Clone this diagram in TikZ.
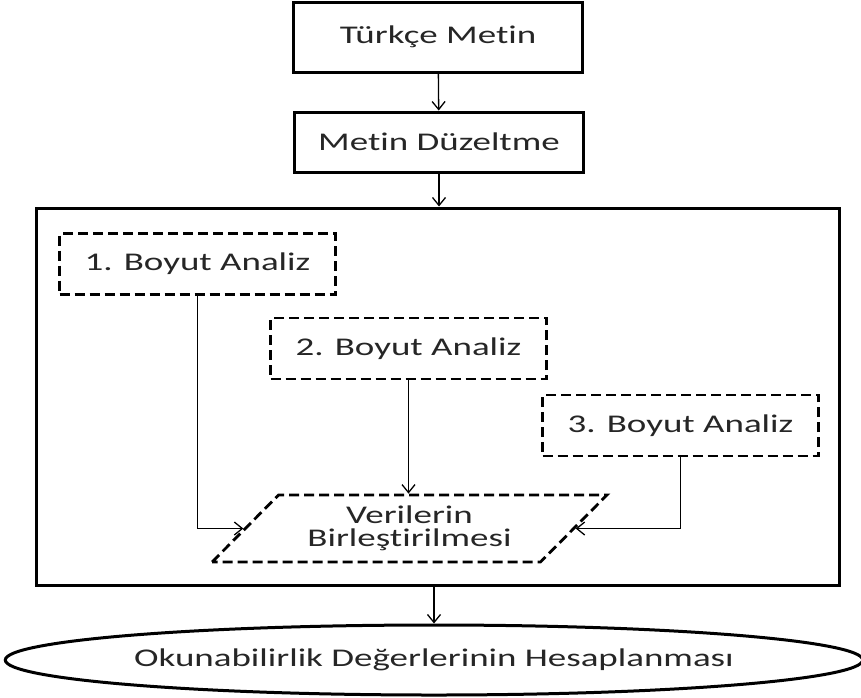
\documentclass[tikz,border=0pt]{standalone}
\usepackage{fontspec}
\setmainfont{Carlito}[FakeStretch=1.45,Ligatures=NoCommon]
\usetikzlibrary{shapes.geometric,arrows.meta}

\begin{document}
\begin{tikzpicture}[x=1pt,y=-1pt,
	kutu/.style={draw,line width=3pt,minimum width=289pt,font=\fontsize{25.5}{24}\selectfont,text=black!85},
	analiz/.style={draw,line width=2.8pt,dash pattern=on 10pt off 5pt,minimum width=276pt,minimum height=61pt,font=\fontsize{25.5}{24}\selectfont,text=black!85},
	ok/.style={line width=1.3pt,-{Straight Barb[length=8pt,width=13pt]}}]
						\useasboundingbox (0,0) rectangle (861,697);
						\node[kutu,minimum height=70pt] (turkce) at (438,37) {Türkçe Metin};
						\node[kutu,minimum height=60pt] (duzelt) at (439,142) {Metin Düzeltme};
						\node[draw,line width=3pt,minimum width=803pt,minimum height=377pt] (cerceve) at (437.5,396.5) {};
						\node[analiz] (b1) at (197.5,264) {1. Boyut Analiz};
						\node[analiz] (b2) at (408.5,348.5) {2. Boyut Analiz};
						\node[analiz] (b3) at (680.5,425.5) {3. Boyut Analiz};
						% veriler birlesiyor
						\node[trapezium,trapezium left angle=41,trapezium right angle=139,trapezium stretches=true,
							draw,line width=2.8pt,dash pattern=on 10pt off 5pt,minimum width=395pt,minimum height=67pt,
							align=center,inner sep=0pt,font=\fontsize{25.5}{23}\selectfont,text=black!85] (veri) at (409.5,528.5) {Verilerin\\Birleştirilmesi};
						\node[ellipse,draw,line width=3pt,minimum width=848pt,minimum height=70pt,
							font=\fontsize{25.5}{24}\selectfont,text=black!85] (sonuc) at (434,660) {Okunabilirlik Değerlerinin Hesaplanması};
						\draw[ok] (turkce) -- (duzelt);
						\draw[ok] (duzelt.south) -- (duzelt.south |- cerceve.north);
						\draw[ok] (b2) -- (b2 |- veri.north);
						\draw[ok] (b1) |- (veri);
						\draw[ok] (b3) |- (veri);
						\draw[ok] (cerceve.south -| sonuc.north) -- (sonuc);
					\end{tikzpicture}
\end{document}
